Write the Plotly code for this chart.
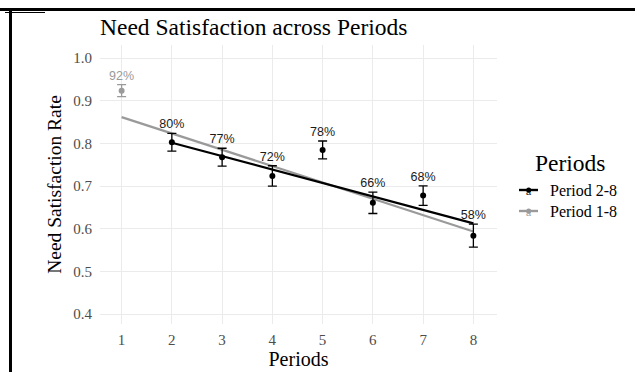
import plotly.graph_objects as go

# Mean need satisfaction per period with error half-widths
periods = [1, 2, 3, 4, 5, 6, 7, 8]
rates = [0.924, 0.803, 0.768, 0.724, 0.785, 0.661, 0.678, 0.584]
errors = [0.014, 0.021, 0.021, 0.024, 0.021, 0.025, 0.023, 0.027]

# Linear trend endpoints for the two period ranges
trend_28_x = [2, 8]
trend_28_y = [0.802, 0.613]
trend_18_x = [1, 8]
trend_18_y = [0.862, 0.594]

series_names = ["Period 2-8", "Period 1-8"]
x_ticks = [1, 2, 3, 4, 5, 6, 7, 8]
y_ticks = [0.4, 0.5, 0.6, 0.7, 0.8, 0.9, 1.0]

BLACK = "#000000"
GREY = "#9a9a9a"
SERIF = "Times New Roman, Liberation Serif, serif"
SANS = "Arial, Liberation Sans, sans-serif"

W, H = 635, 372
ML, MR, MT, MB = 100, 138, 45, 48
PW, PH = W - ML - MR, H - MT - MB


def px_x(p):
    return (p - ML) / PW


def px_y(p):
    return (H - MB - p) / PH


fig = go.Figure()

# Trend lines
fig.add_trace(go.Scatter(x=trend_18_x, y=trend_18_y, mode="lines",
                         line=dict(color=GREY, width=2.2), showlegend=False,
                         hoverinfo="skip"))
fig.add_trace(go.Scatter(x=trend_28_x, y=trend_28_y, mode="lines",
                         line=dict(color=BLACK, width=2.2), showlegend=False,
                         hoverinfo="skip"))

# Points with error bars: period 1 in grey, the rest in black
point_colors = [GREY] + [BLACK] * (len(periods) - 1)
for i, (p, r, e) in enumerate(zip(periods, rates, errors)):
    c = point_colors[i]
    fig.add_trace(go.Scatter(
        x=[p], y=[r], mode="markers",
        marker=dict(color=c, size=6),
        error_y=dict(type="data", array=[e], color=c, thickness=1.3, width=4.5),
        showlegend=False))
    fig.add_trace(go.Scatter(
        x=[p], y=[r + e + 0.019], mode="text",
        text=[f"{round(r * 100)}%"], textposition="middle center",
        textfont=dict(family=SANS, size=12.5, color=c if i == 0 else "#1a1a1a"),
        showlegend=False, hoverinfo="skip"))

# Frame lines around the figure
shapes = [
    dict(type="line", xref="paper", yref="paper",
         x0=px_x(0), x1=px_x(W), y0=px_y(9.5), y1=px_y(9.5),
         line=dict(color="black", width=3)),
    dict(type="line", xref="paper", yref="paper",
         x0=px_x(5), x1=px_x(45), y0=px_y(12.5), y1=px_y(12.5),
         line=dict(color="black", width=1)),
    dict(type="line", xref="paper", yref="paper",
         x0=px_x(10.5), x1=px_x(10.5), y0=px_y(11), y1=px_y(H),
         line=dict(color="black", width=3)),
]

# Legend drawn beside the panel: title, key lines with points, labels
annotations = [
    dict(text="Periods", xref="paper", yref="paper", x=px_x(570), y=px_y(163),
         xanchor="center", yanchor="middle", showarrow=False,
         font=dict(family=SERIF, size=23.5, color="black")),
]
key_rows = [190, 211]
for name, col, ky in zip(series_names, [BLACK, GREY], key_rows):
    shapes.append(dict(type="line", xref="paper", yref="paper",
                       x0=px_x(519), x1=px_x(538), y0=px_y(ky), y1=px_y(ky),
                       line=dict(color=col, width=2.4)))
    shapes.append(dict(type="circle", xref="paper", yref="paper",
                       x0=px_x(526.2), x1=px_x(531.2),
                       y0=px_y(ky + 2.5), y1=px_y(ky - 2.5),
                       fillcolor=col, line=dict(color=col, width=0)))
    annotations.append(dict(text="a", xref="paper", yref="paper",
                            x=px_x(528.7), y=px_y(ky + 2), xanchor="center",
                            yanchor="middle", showarrow=False,
                            font=dict(family=SANS, size=9, color=col)))
    annotations.append(dict(text=name, xref="paper", yref="paper",
                            x=px_x(548), y=px_y(ky), xanchor="left",
                            yanchor="middle", showarrow=False,
                            font=dict(family=SERIF, size=16, color="black")))

fig.update_layout(
    width=W, height=H,
    margin=dict(l=ML, r=MR, t=MT, b=MB, autoexpand=False),
    paper_bgcolor="white", plot_bgcolor="white",
    font=dict(family=SERIF),
    showlegend=False,
    title=dict(text="Need Satisfaction across Periods",
               font=dict(family=SERIF, size=23.5, color="black"),
               x=px_x(ML), xref="paper", xanchor="left",
               y=1 - 27 / H, yref="container", yanchor="middle"),
    xaxis=dict(range=[0.57, 8.47], tickvals=x_ticks,
               tickfont=dict(family=SERIF, size=15, color="#4d4d4d"),
               ticklabelstandoff=5,
               showgrid=True, gridcolor="#ebebeb", gridwidth=1.3,
               zeroline=False, showline=False, ticks="",
               title=dict(text="Periods", font=dict(family=SERIF, size=20, color="black"),
                          standoff=4)),
    yaxis=dict(range=[0.377, 1.031], tickvals=y_ticks,
               tickformat=".1f",
               tickfont=dict(family=SERIF, size=15, color="#4d4d4d"),
               ticklabelstandoff=7,
               showgrid=True, gridcolor="#ebebeb", gridwidth=1.3,
               zeroline=False, showline=False, ticks="",
               title=dict(text="Need Satisfaction Rate",
                          font=dict(family=SERIF, size=19.5, color="black"),
                          standoff=6)),
    shapes=shapes,
    annotations=annotations,
)

fig.write_html("out.html", config={"displayModeBar": False})
